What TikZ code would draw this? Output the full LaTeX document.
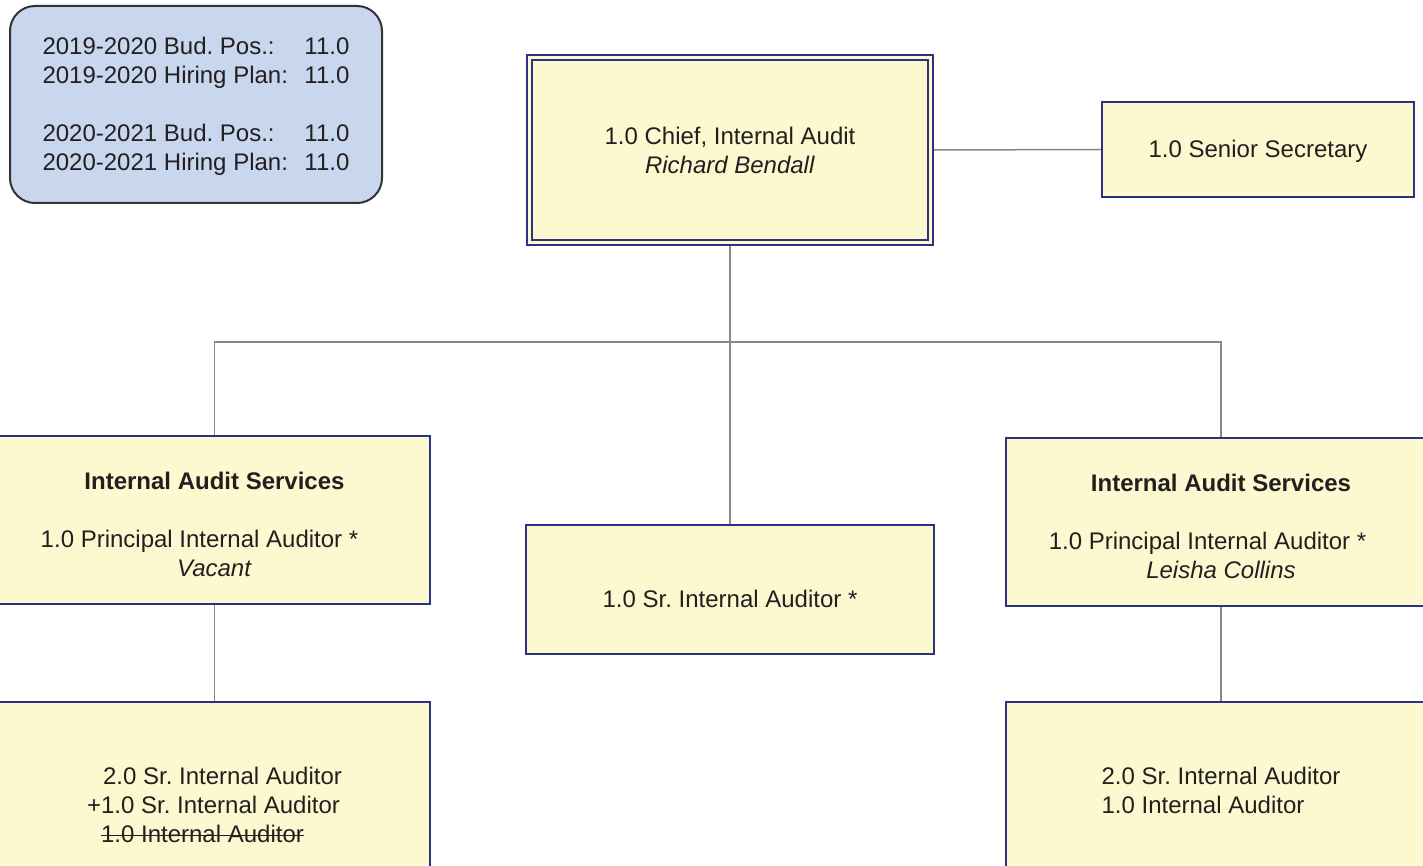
\documentclass[tikz,border=0pt]{standalone}
\usepackage{fontspec}
\setmainfont{Liberation Sans}
\usetikzlibrary{backgrounds}
\definecolor{boxfill}{RGB}{252,248,207}
\definecolor{boxline}{RGB}{43,50,130}
\definecolor{infofill}{RGB}{200,215,238}
\definecolor{infoline}{RGB}{51,51,51}
\definecolor{connline}{RGB}{136,136,136}
\definecolor{txt}{RGB}{35,31,32}
\newsavebox{\strikebox}
\newcommand{\struck}[1]{\sbox{\strikebox}{#1}\rlap{\rule[3.2pt]{\wd\strikebox}{0.5pt}}\usebox{\strikebox}}
\frenchspacing

\begin{document}
\begin{tikzpicture}[
  x=0.5pt,y=-0.5pt,
  font=\fontsize{12}{14.5}\selectfont\frenchspacing,
  box/.style={draw=boxline,fill=boxfill,line width=1pt,text=txt,align=center,inner sep=0pt},
  dbox/.style={box,double=boxfill,double distance=1.5pt},
  info/.style={draw=infoline,fill=infofill,line width=1pt,rounded corners=12.5pt,text=txt,inner sep=0pt},
  conn/.style={draw=connline,line width=0.75pt}
]
\useasboundingbox (0,0) rectangle (1423,866);
\node[info,minimum width=186pt,minimum height=98.5pt] (budget) at (196,104.5)
  {\begin{tabular}{@{}p{131pt}@{}l@{}}
   \rule{0pt}{12.2pt}2019-2020 Bud. Pos.: & 11.0\\
   2019-2020 Hiring Plan: & 11.0\\
   & \\
   2020-2021 Bud. Pos.: & 11.0\\
   2020-2021 Hiring Plan: & 11.0
   \end{tabular}};
\node[dbox,minimum width=200.5pt,minimum height=92.5pt] (chief) at (730,150)
  {1.0 Chief, Internal Audit\\\textit{Richard Bendall}};
\node[box,minimum width=156pt,minimum height=47.5pt] (secretary) at (1258,149.5)
  {\rule{0pt}{10.8pt}1.0 Senior Secretary};
\node[box,minimum width=215.5pt,minimum height=84pt] (iasleft) at (214.5,520)
  {\rule{0pt}{12.8pt}\textbf{Internal Audit Services}\\[14.5pt]1.0 Principal Internal Auditor *\rule{15pt}{0pt}\\\textit{Vacant}};
\node[box,minimum width=204pt,minimum height=64.5pt,text height=18pt,text depth=0pt] (srauditor) at (730,589.5)
  {1.0 Sr. Internal Auditor *};
\node[box,minimum width=215pt,minimum height=84pt] (iasright) at (1221,522)
  {\rule{0pt}{12.8pt}\textbf{Internal Audit Services}\\[14.5pt]1.0 Principal Internal Auditor *\rule{13.5pt}{0pt}\\\textit{Leisha Collins}};
\node[box,align=left,minimum width=215.5pt,minimum height=103pt] (staffleft) at (214.5,805)
  {\hspace*{8pt}2.0 Sr. Internal Auditor\\+1.0 Sr. Internal Auditor\\\hspace*{7pt}\struck{1.0 Internal Auditor}};
\node[box,align=left,minimum width=215pt,minimum height=103pt] (staffright) at (1221,805)
  {2.0 Sr. Internal Auditor\\1.0 Internal Auditor\\\mbox{}};
\coordinate (bus) at (730,342);
\begin{scope}[on background layer]
\draw[conn] (chief) -- (bus);
\draw[conn] (bus) -| (iasleft);
\draw[conn] (bus) -| (iasright);
\draw[conn] (bus) -- (srauditor);
\draw[conn] (chief.east) -- (secretary.west);
\draw[conn] (iasleft) -- (staffleft);
\draw[conn] (iasright) -- (staffright);
\end{scope}
\end{tikzpicture}
\end{document}
